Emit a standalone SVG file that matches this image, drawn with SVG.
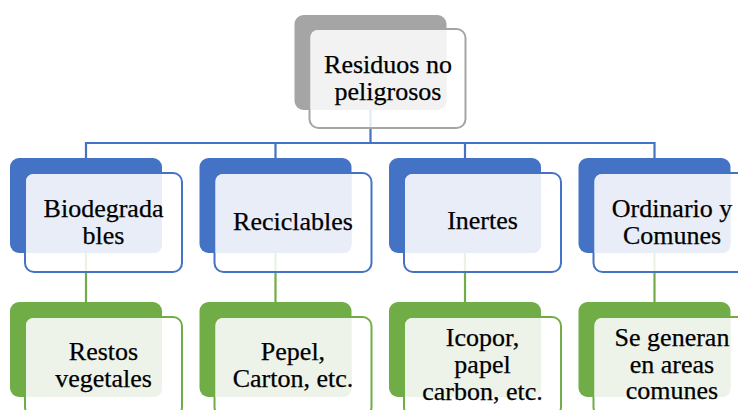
<svg xmlns="http://www.w3.org/2000/svg" width="738" height="410" viewBox="0 0 738 410">
<style>
text{font-family:'Liberation Serif','Times New Roman',serif;font-size:26px;fill:#000;stroke:#000;stroke-width:0.25;text-anchor:middle}
.fr{fill:#fff;fill-opacity:0.85;stroke-width:2}
.gb{fill:#A5A5A5}.gs{stroke:#A5A5A5}.go{fill:#F2F2F2}
.bb{fill:#4472C4}.bs{stroke:#4472C4}.bo{fill:#E9EDF7}
.nb{fill:#70AD47}.ns{stroke:#70AD47}.no{fill:#EEF3EA}
.cb{stroke:#4472C4;stroke-width:2.2;fill:none}
.cg{stroke:#70AD47;stroke-width:2.2;fill:none}
</style>
<defs>
<path id="ov" d="M24 16 H152 V86 Q152 95 143 95 H16 V24 Q16 16 24 16 Z"/>
</defs>
<g id="connectors">
<path class="cb" d="M370.5 110 V143 M86 143 H654.5 M86 142 V158 M275.5 142 V158 M465 142 V158 M654.5 142 V158"/>
<path class="cg" d="M86 253 V302 M275.5 253 V302 M465 253 V302 M654.5 253 V302"/>
</g>
<g id="n0" transform="translate(294.5,15)">
<rect class="gb" x="0" y="0" width="152" height="95" rx="9"/>
<rect class="fr gs" x="15" y="14" width="156" height="99" rx="9"/>
<use href="#ov" class="go" transform="translate(0,-1)"/>
<text x="93.5" y="57.7">Residuos no</text>
<text x="93.5" y="85">peligrosos</text>
</g>
<g id="n1" transform="translate(10,158)">
<rect class="bb" x="0" y="0" width="152" height="95" rx="9"/>
<rect class="fr bs" x="15" y="15" width="157" height="99" rx="9"/>
<use href="#ov" class="bo"/>
<text x="93.5" y="59">Biodegrada</text>
<text x="93.5" y="86">bles</text>
</g>
<g id="n2" transform="translate(199.5,158)">
<rect class="bb" x="0" y="0" width="152" height="95" rx="9"/>
<rect class="fr bs" x="15" y="15" width="157" height="99" rx="9"/>
<use href="#ov" class="bo"/>
<text x="93.5" y="72">Reciclables</text>
</g>
<g id="n3" transform="translate(389,158)">
<rect class="bb" x="0" y="0" width="152" height="95" rx="9"/>
<rect class="fr bs" x="15" y="15" width="157" height="99" rx="9"/>
<use href="#ov" class="bo"/>
<text x="93.5" y="71">Inertes</text>
</g>
<g id="n4" transform="translate(578.5,158)">
<rect class="bb" x="0" y="0" width="152" height="95" rx="9"/>
<rect class="fr bs" x="15" y="15" width="157" height="99" rx="9"/>
<use href="#ov" class="bo"/>
<text x="93.5" y="59">Ordinario y</text>
<text x="93.5" y="86">Comunes</text>
</g>
<g id="n5" transform="translate(10,302)">
<rect class="nb" x="0" y="0" width="152" height="95" rx="9"/>
<rect class="fr ns" x="15" y="15" width="157" height="99" rx="9"/>
<use href="#ov" class="no"/>
<text x="93.5" y="58">Restos</text>
<text x="93.5" y="85">vegetales</text>
</g>
<g id="n6" transform="translate(199.5,302)">
<rect class="nb" x="0" y="0" width="152" height="95" rx="9"/>
<rect class="fr ns" x="15" y="15" width="157" height="99" rx="9"/>
<use href="#ov" class="no"/>
<text x="93.5" y="58">Pepel,</text>
<text x="93.5" y="85">Carton, etc.</text>
</g>
<g id="n7" transform="translate(389,302)">
<rect class="nb" x="0" y="0" width="152" height="95" rx="9"/>
<rect class="fr ns" x="15" y="15" width="157" height="99" rx="9"/>
<use href="#ov" class="no"/>
<text x="93.5" y="44">Icopor,</text>
<text x="93.5" y="71">papel</text>
<text x="93.5" y="98">carbon, etc.</text>
</g>
<g id="n8" transform="translate(578.5,302)">
<rect class="nb" x="0" y="0" width="152" height="95" rx="9"/>
<rect class="fr ns" x="15" y="15" width="157" height="99" rx="9"/>
<use href="#ov" class="no"/>
<text x="93.5" y="44">Se generan</text>
<text x="93.5" y="70.5">en areas</text>
<text x="93.5" y="97">comunes</text>
</g>
</svg>
